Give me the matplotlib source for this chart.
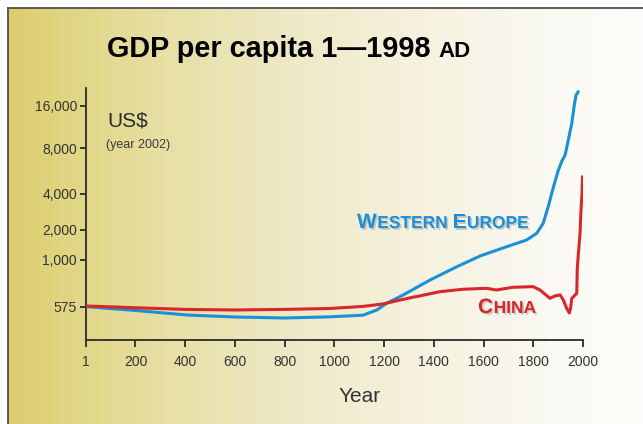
import numpy as np
import matplotlib
matplotlib.use("Agg")
import matplotlib.pyplot as plt
import matplotlib.patheffects as pe
from matplotlib.lines import Line2D

# ---------------- data ----------------
years_we = [1, 200, 407, 600, 800, 982, 1115, 1171, 1211, 1276, 1385, 1493, 1586,
            1693, 1773, 1814, 1840, 1860, 1881, 1901, 1914, 1928, 1941, 1955,
            1964, 1972, 1981]
gdp_we = [575, 550, 521, 509, 503, 510, 520, 553, 600, 660, 789, 924, 1097,
          1359, 1588, 1854, 2276, 3133, 4446, 5754, 6530, 7230, 9160, 12030,
          15700, 19000, 20100]

years_cn = [1, 200, 400, 600, 800, 982, 1115, 1196, 1264, 1316, 1425, 1517, 1612,
            1652, 1719, 1800, 1827, 1867, 1887, 1908, 1921, 1934, 1945, 1950,
            1955, 1975, 1977, 1982, 1988, 1992, 1996, 1998]
gdp_cn = [580, 568, 557, 553, 557, 563, 577, 594, 622, 643, 687, 707, 715,
          701, 724, 729, 701, 635, 653, 661, 622, 565, 534, 565,
          635, 674, 906, 1211, 1854, 2940, 4040, 5200]

x_ticks = [1, 200, 400, 600, 800, 1000, 1200, 1400, 1600, 1800, 2000]
x_tick_labels = ["1", "200", "400", "600", "800", "1000", "1200", "1400",
                 "1600", "1800", "2000"]
y_ticks = [575, 1000, 2000, 4000, 8000, 16000]
y_tick_labels = ["575", "1,000", "2,000", "4,000", "8,000", "16,000"]

title_main = "GDP per capita 1\u20141998"
title_tail = "AD"

# ---------------- style / layout ----------------
W, H = 643, 424
BLUE = "#1c8fd9"
RED = "#d9262a"
AXC = "#2a2a2a"
TXT = "#333333"
FONT = "Liberation Sans"
plt.rcParams["font.family"] = [FONT, "DejaVu Sans"]

# pixel height (above the x axis) at which each y tick sits in the original
TICK_POS = [33.3, 80.0, 110.0, 146.0, 191.7, 234.3]
AX_LEFT, AX_RIGHT, AX_TOP, AX_BOTTOM = 86, 583, 88, 340
AX_HPX = AX_BOTTOM - AX_TOP

LOGT = np.log10(np.array(y_ticks, dtype=float))
POS = np.array(TICK_POS)


def _pw(x, xp, fp):
    x = np.asarray(x, dtype=float)
    y = np.interp(x, xp, fp)
    s0 = (fp[1] - fp[0]) / (xp[1] - xp[0])
    s1 = (fp[-1] - fp[-2]) / (xp[-1] - xp[-2])
    y = np.where(x < xp[0], fp[0] + (x - xp[0]) * s0, y)
    y = np.where(x > xp[-1], fp[-1] + (x - xp[-1]) * s1, y)
    return y


def forward(v):
    v = np.clip(np.asarray(v, dtype=float), 1e-9, None)
    return _pw(np.log10(v), LOGT, POS)


def inverse(p):
    return 10 ** _pw(p, POS, LOGT)


fig = plt.figure(figsize=(W / 100, H / 100), dpi=100)
fig.patch.set_facecolor("white")

# background gradient panel
bg = fig.add_axes([8 / W, 0, (W - 8) / W, (H - 8) / H])
bg.axis("off")
stops = [0.0, 0.08, 0.22, 0.45, 0.68, 0.85, 1.0]
cols = np.array([
    [220, 205, 108],
    [224, 212, 128],
    [230, 222, 160],
    [239, 233, 199],
    [246, 243, 226],
    [250, 249, 242],
    [254, 253, 251],
]) / 255.0
xs = np.linspace(0, 1, 700)
grad = np.stack([np.interp(xs, stops, cols[:, i]) for i in range(3)], axis=-1)
bg.imshow(grad[np.newaxis, :, :], aspect="auto", extent=[0, 1, 0, 1])
bg.set_xlim(0, 1)
bg.set_ylim(0, 1)

# slide border
fig.add_artist(Line2D([7.5 / W, 1], [1 - 7.5 / H, 1 - 7.5 / H],
                      transform=fig.transFigure, color="#505050", lw=1.3))
fig.add_artist(Line2D([7.5 / W, 7.5 / W], [0, 1 - 7.5 / H],
                      transform=fig.transFigure, color="#505050", lw=1.3))

# main axes
ax = fig.add_axes([AX_LEFT / W, (H - AX_BOTTOM) / H,
                   (AX_RIGHT - AX_LEFT) / W, AX_HPX / H])
ax.patch.set_alpha(0)
ax.set_yscale("function", functions=(forward, inverse))
ax.plot(years_we, gdp_we, color=BLUE, lw=2.2, solid_joinstyle="round",
        solid_capstyle="round", zorder=3)
ax.plot(years_cn, gdp_cn, color=RED, lw=2.2, solid_joinstyle="round",
        solid_capstyle="round", zorder=3)
ax.set_xlim(1, 2000)
ax.set_ylim(float(inverse(0.0)), float(inverse(AX_HPX)))
ax.set_xticks(x_ticks)
ax.set_xticklabels(x_tick_labels)
ax.set_yticks(y_ticks)
ax.set_yticklabels(y_tick_labels)
ax.yaxis.set_minor_locator(matplotlib.ticker.NullLocator())
ax.xaxis.set_minor_locator(matplotlib.ticker.NullLocator())
for s in ["top", "right"]:
    ax.spines[s].set_visible(False)
for s in ["left", "bottom"]:
    ax.spines[s].set_color(AXC)
    ax.spines[s].set_linewidth(1.3)
ax.tick_params(axis="both", direction="out", color=AXC, width=1.3,
               labelcolor=TXT)
ax.tick_params(axis="x", length=5, pad=6, labelsize=10)
ax.tick_params(axis="y", length=4.3, pad=2.2, labelsize=10)

renderer = fig.canvas.get_renderer()


def seq_text(x_px, base_px, parts, **kw):
    """Draw text pieces one after another on a common baseline."""
    x = x_px
    for txt, size, gap in parts:
        x += gap
        t = fig.text(x / W, 1 - base_px / H, txt, ha="left", va="baseline",
                     fontsize=size, **kw)
        bb = t.get_window_extent(renderer)
        x = bb.x1


# title
seq_text(107, 57, [(title_main, 20.8, 0), (title_tail, 16, 8)],
         fontweight="bold", color="black")

# unit labels
fig.text(107 / W, 1 - 127 / H, "US$", ha="left", va="baseline",
         fontsize=15, color="#2b2b2b")
fig.text(106 / W, 1 - 148 / H, "(year 2002)", ha="left", va="baseline",
         fontsize=9, color="#3a3a3a")

# x label
fig.text(360 / W, 1 - 397 / H, "Year", ha="center", va="center",
         fontsize=15, color=TXT)

shadow = [pe.SimplePatchShadow(offset=(1.2, -1.2), shadow_rgbFace="#777777",
                               alpha=0.35), pe.Normal()]
seq_text(357, 228, [("W", 15, 0), ("ESTERN", 12.5, 0.5), ("E", 15, 5),
                    ("UROPE", 12.5, 0.5)],
         fontweight="bold", color=BLUE, path_effects=shadow)
seq_text(478, 313, [("C", 15, 0), ("HINA", 12.5, 0.5)],
         fontweight="bold", color=RED, path_effects=shadow)

fig.savefig("out.png", dpi=100)
